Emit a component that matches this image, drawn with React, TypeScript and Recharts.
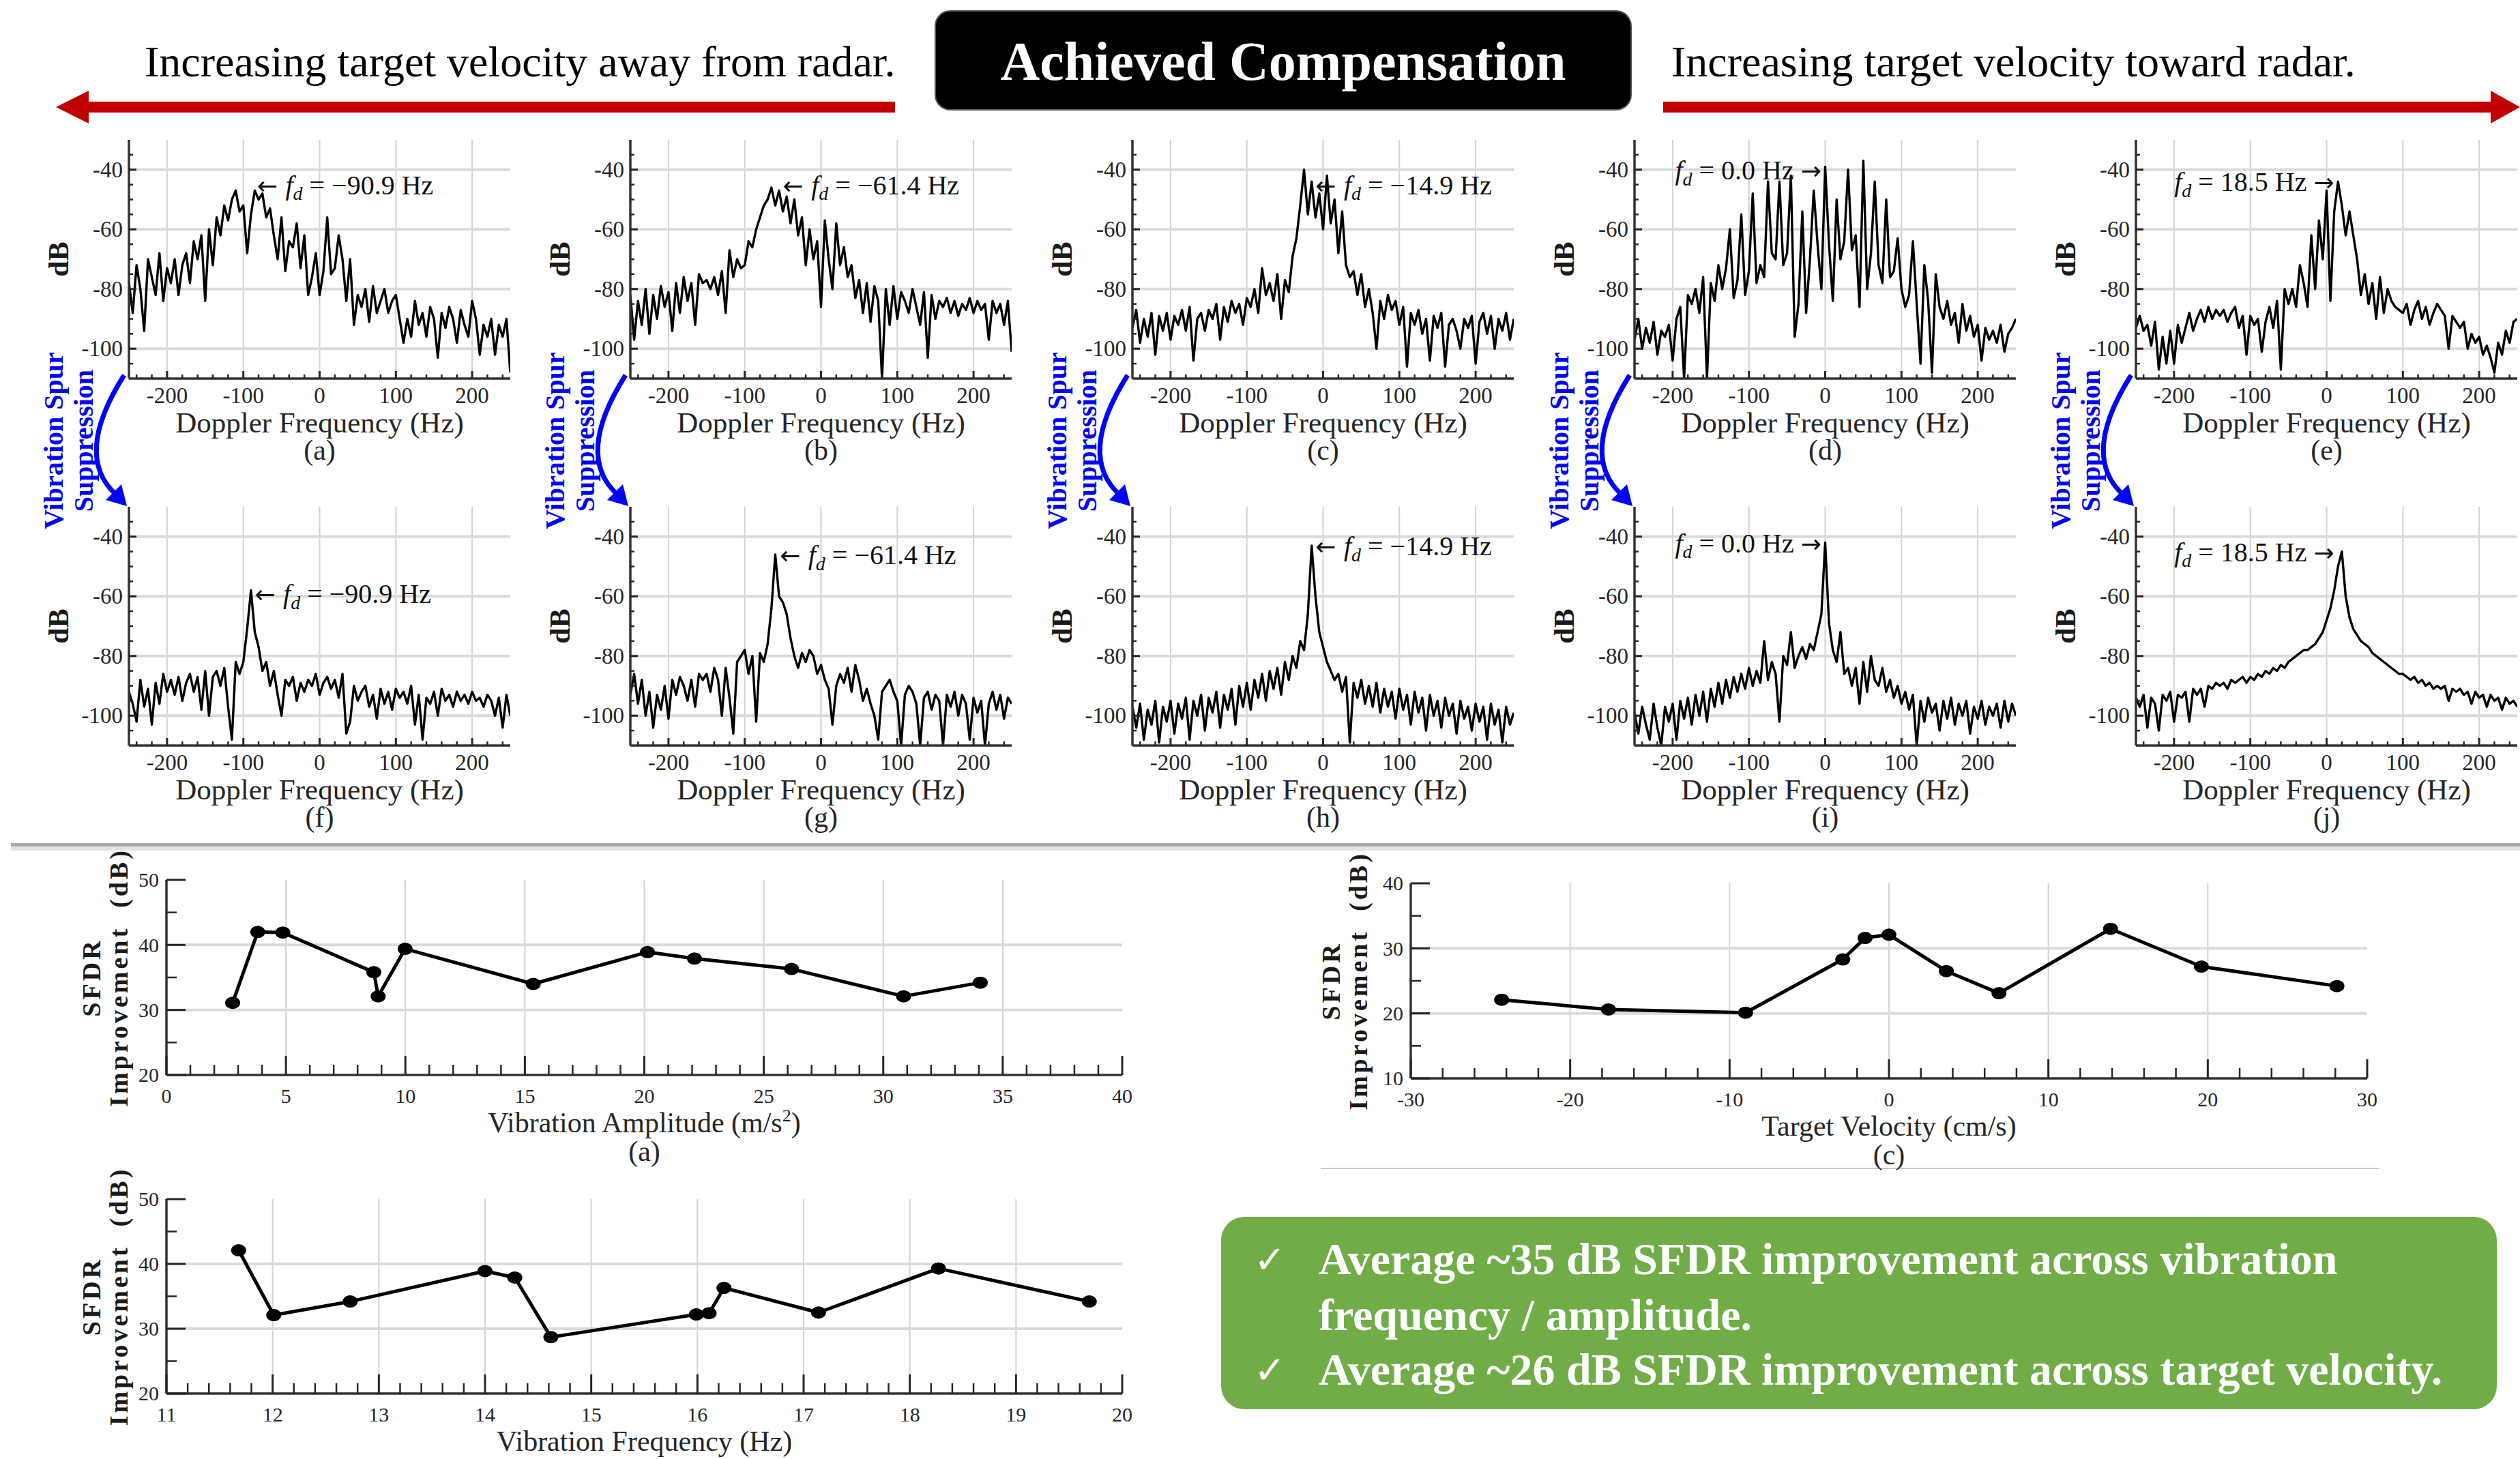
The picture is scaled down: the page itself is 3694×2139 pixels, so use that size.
import React from 'react';
import { LineChart, Line, XAxis, YAxis, ReferenceLine, ReferenceDot } from 'recharts';

const SERIF = "'Liberation Serif', 'Times New Roman', serif";
const INK = '#262626';
const PAGE_W = 3694;
const PAGE_H = 2139;

// Doppler spectra: bins every 5 Hz from -250 Hz to 250 Hz (101 bins), values in dB
const F_START = -250;
const F_STEP = 5;

// before compensation (top row)
const DB_A = [
  -78, -88, -72, -80, -94, -70, -76, -82, -68, -84,
  -73, -78, -70, -82, -72, -68, -78, -64, -70, -62,
  -84, -60, -72, -56, -62, -52, -57, -50, -47, -54,
  -52, -68, -55, -47, -50, -48, -56, -53, -62, -70,
  -56, -74, -64, -66, -58, -73, -62, -82, -76, -68,
  -82, -74, -56, -75, -73, -62, -70, -84, -70, -92,
  -82, -86, -80, -91, -79, -88, -84, -80, -88, -84,
  -82, -90, -98, -90, -96, -84, -92, -88, -96, -86,
  -90, -103, -88, -93, -86, -90, -98, -87, -92, -96,
  -84, -90, -102, -92, -96, -90, -102, -92, -96, -90,
  -108,
];
const DB_B = [
  -82, -97, -84, -92, -80, -95, -82, -90, -79, -86,
  -81, -94, -78, -88, -76, -84, -78, -92, -75, -78,
  -77, -80, -76, -82, -74, -88, -67, -76, -70, -73,
  -72, -64, -66, -60, -56, -52, -50, -46, -52, -47,
  -54, -49, -58, -50, -62, -56, -72, -60, -70, -64,
  -86, -57, -70, -80, -58, -72, -66, -76, -72, -83,
  -77, -88, -78, -91, -79, -84, -110, -80, -92, -79,
  -90, -81, -84, -88, -80, -86, -92, -81, -103, -82,
  -90, -84, -86, -83, -88, -84, -89, -85, -87, -83,
  -88, -84, -87, -85, -97, -84, -88, -85, -92, -84,
  -101,
];
const DB_C = [
  -93, -87, -98, -90, -96, -88, -102, -89, -94, -88,
  -97, -89, -92, -87, -94, -86, -104, -90, -88, -94,
  -87, -90, -85, -97, -86, -91, -84, -88, -85, -92,
  -83, -86, -80, -88, -73, -82, -78, -84, -75, -90,
  -77, -81, -69, -63, -52, -40, -55, -44, -56, -48,
  -60, -42, -58, -50, -68, -54, -72, -76, -74, -82,
  -75, -86, -80, -88, -100, -84, -90, -82, -87, -84,
  -92, -86, -106, -88, -92, -87, -95, -90, -104, -89,
  -93, -88, -106, -92, -90, -94, -100, -90, -93, -89,
  -105, -91, -88, -95, -89, -100, -90, -94, -88, -97,
  -90,
];
const DB_D = [
  -97, -90, -100, -93, -98, -91, -102, -94, -96, -92,
  -104, -90, -86, -110, -82, -85, -80, -88, -76, -110,
  -78, -84, -72, -80, -73, -60, -83, -77, -55, -82,
  -74, -48, -78, -72, -76, -44, -68, -70, -44, -72,
  -68, -42, -96, -85, -54, -88, -70, -47, -65, -80,
  -39, -65, -84, -50, -70, -64, -40, -67, -62, -86,
  -37, -80, -68, -44, -72, -78, -50, -76, -74, -63,
  -80, -86, -82, -64, -85, -105, -72, -84, -108, -75,
  -86, -90, -84, -92, -88, -98, -85, -94, -89, -96,
  -92, -104, -93, -97, -94, -98, -92, -101, -95, -93,
  -90,
];
const DB_E = [
  -93, -89, -94, -92, -99, -91, -107, -96, -105, -94,
  -105, -92, -98, -93, -88, -94, -90, -87, -91, -86,
  -90, -87, -89, -87, -91, -88, -86, -93, -89, -102,
  -89, -92, -90, -101, -91, -86, -93, -84, -107, -80,
  -85, -80, -86, -72, -78, -86, -62, -80, -57, -70,
  -47, -84, -54, -44, -52, -62, -54, -62, -70, -82,
  -75, -85, -78, -90, -76, -88, -80, -84, -86, -87,
  -88, -85, -92, -87, -84, -90, -86, -92, -88, -85,
  -87, -89, -100, -89, -91, -93, -91, -100, -95, -98,
  -96, -102, -99, -103, -108, -98, -102, -94, -98, -91,
  -90,
];

// after vibration spur suppression (bottom row)
const DB_F = [
  -92, -96, -102, -88, -97, -91, -103, -89, -96, -86,
  -92, -88, -93, -87, -95, -89, -86, -92, -87, -98,
  -85, -100, -87, -85, -90, -84, -97, -108, -82, -86,
  -82, -71, -58, -72, -77, -85, -82, -90, -85, -93,
  -100, -88, -90, -87, -95, -89, -92, -88, -90, -86,
  -93, -89, -87, -91, -88, -94, -86, -106, -102, -90,
  -95, -92, -90, -97, -93, -101, -91, -96, -92, -98,
  -91, -94, -92, -96, -90, -103, -93, -108, -94, -96,
  -92, -100, -91, -95, -93, -97, -92, -95, -93, -96,
  -92, -95, -94, -97, -93, -95, -100, -94, -104, -93,
  -100,
];
const DB_G = [
  -93, -86, -96, -88, -100, -92, -104, -93, -98, -90,
  -101, -88, -93, -87, -90, -95, -88, -97, -86, -88,
  -86, -92, -84, -88, -100, -84, -94, -106, -82, -80,
  -78, -86, -80, -102, -79, -82, -76, -64, -46, -60,
  -62, -66, -74, -80, -84, -79, -82, -78, -80, -86,
  -83, -88, -91, -103, -90, -86, -89, -84, -92, -83,
  -88, -95, -91, -96, -100, -108, -92, -90, -88, -92,
  -95, -110, -93, -90, -92, -96, -110, -94, -92, -98,
  -93, -95, -110, -93, -97, -92, -100, -93, -96, -108,
  -94, -99, -95, -110, -96, -92, -98, -93, -101, -94,
  -96,
];
const DB_H = [
  -97, -104, -96, -108, -98, -103, -95, -109, -97, -102,
  -95, -106, -96, -101, -94, -108, -95, -100, -93, -105,
  -94, -99, -92, -104, -93, -98, -91, -103, -90, -97,
  -89, -98, -88, -94, -86, -95, -85, -91, -84, -93,
  -82, -88, -80, -84, -75, -78, -66, -43, -60, -72,
  -77, -82, -85, -88, -86, -92, -87, -109, -89, -94,
  -88, -96, -90, -97, -89, -99, -91, -97, -92, -101,
  -91, -98, -93, -103, -92, -99, -94, -105, -93, -100,
  -95, -104, -94, -100, -96, -106, -95, -101, -97, -105,
  -96, -102, -97, -108, -96, -103, -98, -109, -97, -103,
  -99,
];
const DB_I = [
  -99, -106, -97, -103, -108, -96, -104, -110, -97, -102,
  -96, -108, -95, -101, -94, -103, -93, -100, -92, -102,
  -91, -97, -89, -96, -88, -94, -87, -92, -86, -91,
  -84, -90, -85, -89, -75, -88, -82, -86, -102, -80,
  -83, -72, -84, -80, -77, -81, -76, -78, -72, -66,
  -42, -69, -78, -82, -72, -86, -84, -90, -84, -96,
  -82, -92, -80, -88, -90, -84, -92, -88, -94, -90,
  -96, -92, -98, -93, -110, -95, -102, -94, -99, -96,
  -105, -95, -101, -94, -103, -96, -100, -95, -106, -97,
  -101, -95, -103, -97, -100, -96, -104, -95, -102, -96,
  -100,
];
const DB_J = [
  -94, -97, -93, -104, -94, -96, -105, -93, -95, -92,
  -102, -93, -94, -92, -102, -91, -93, -91, -97, -90,
  -91, -89, -90, -89, -91, -88, -89, -88, -87, -89,
  -87, -88, -86, -87, -85, -86, -84, -85, -83, -84,
  -82, -81, -80, -79, -78, -78, -77, -76, -74, -72,
  -68, -64, -58, -50, -45, -60, -67, -71, -73, -75,
  -76, -77, -79, -80, -81, -82, -83, -84, -85, -86,
  -86, -87, -88, -87, -89, -88, -90, -89, -91, -90,
  -91, -90, -95, -91, -92, -91, -93, -92, -96, -92,
  -94, -93, -97, -93, -95, -94, -98, -94, -96, -95,
  -97,
];

const SPEC_X_TICKS = [-200, -100, 0, 100, 200];
const SPEC_Y_TICKS = [-100, -80, -60, -40];

const TOP_SPECTRA = [DB_A, DB_B, DB_C, DB_D, DB_E];
const BOT_SPECTRA = [DB_F, DB_G, DB_H, DB_I, DB_J];
const TOP_LETTERS = ['(a)', '(b)', '(c)', '(d)', '(e)'];
const BOT_LETTERS = ['(f)', '(g)', '(h)', '(i)', '(j)'];
const FD_LABELS = ['−90.9', '−61.4', '−14.9', '0.0', '18.5'];

// SFDR improvement sweeps
const AMP = [2.77, 3.82, 4.87, 8.68, 8.86, 9.99, 15.35, 20.13, 22.1, 26.16, 30.85, 34.06];
const AMP_SFDR = [31.1, 42.0, 41.9, 35.8, 32.1, 39.4, 34.0, 38.9, 37.9, 36.3, 32.1, 34.2];
const VIB_F = [11.68, 12.01, 12.73, 14.0, 14.28, 14.62, 15.99, 16.11, 16.25, 17.14, 18.27, 19.69];
const VIB_F_SFDR = [42.1, 32.1, 34.2, 38.9, 37.9, 28.7, 32.2, 32.4, 36.3, 32.5, 39.3, 34.2];
const VEL = [-24.3, -17.6, -9.0, -2.9, -1.5, 0.0, 3.6, 6.9, 13.9, 19.6, 28.1];
const VEL_SFDR = [22.1, 20.6, 20.1, 28.3, 31.6, 32.1, 26.5, 23.1, 33.0, 27.2, 24.2];

const AMP_TICKS = [0, 5, 10, 15, 20, 25, 30, 35, 40];
const VIB_F_TICKS = [11, 12, 13, 14, 15, 16, 17, 18, 19, 20];
const VEL_TICKS = [-30, -20, -10, 0, 10, 20, 30];
const SFDR_TICKS_AB = [20, 30, 40, 50];
const SFDR_TICKS_C = [10, 20, 30, 40];

// layout
const COL_X = [189, 924, 1660, 2396, 3131];
const ROW_Y = [205, 743];
const SP_W = 559;
const SP_H = 350;

// where the fd notes sit (data coords) and which side the arrow is on
const NOTES_TOP = [
  { x: -82, y: -45, side: 'L' },
  { x: -50, y: -45, side: 'L' },
  { x: -10, y: -45, side: 'L' },
  { x: -5, y: -40, side: 'R' },
  { x: 10, y: -44, side: 'R' },
];
const NOTES_BOT = [
  { x: -85, y: -59, side: 'L' },
  { x: -54, y: -46, side: 'L' },
  { x: -10, y: -43, side: 'L' },
  { x: -5, y: -42, side: 'R' },
  { x: 10, y: -45, side: 'R' },
];

const steps = (a: number, b: number, s: number, skip: number[]) => {
  const out: number[] = [];
  for (let k = 0; a + k * s <= b + 1e-9; k++) {
    const v = +(a + k * s).toFixed(6);
    if (!skip.some((m) => Math.abs(m - v) < 1e-9)) out.push(v);
  }
  return out;
};

type Side = 'b' | 't' | 'l' | 'r';

function mkTick(side: Side, majors: number[], majorLen: number, minorLen: number, font: number, gap: number) {
  const isMajor = (v: number) => majors.some((m) => Math.abs(m - v) < 1e-9);
  return (props: any) => {
    const { x, y, payload, index } = props;
    const v = Number(payload.value);
    const major = isMajor(v);
    const len = major ? majorLen : minorLen;
    const d =
      side === 'b' ? `M${x},${y}V${y - len}` :
      side === 't' ? `M${x},${y}V${y + len}` :
      side === 'l' ? `M${x},${y}H${x + len}` : `M${x},${y}H${x - len}`;
    let label = null;
    if (major && side === 'b') {
      label = (
        <text x={x} y={y + gap} textAnchor="middle" fontFamily={SERIF} fontSize={font} fill={INK}>
          {String(v)}
        </text>
      );
    }
    if (major && side === 'l') {
      label = (
        <text x={x - gap} y={y} dy="0.34em" textAnchor="end" fontFamily={SERIF} fontSize={font} fill={INK}>
          {String(v)}
        </text>
      );
    }
    return (
      <g key={`${side}${index}`}>
        <path d={d} stroke={INK} strokeWidth={major ? 3 : 2.5} fill="none" />
        {label}
      </g>
    );
  };
}

const AXIS = { stroke: '#333', strokeWidth: 3.5 };
const ARROW_FONT = "'DejaVu Sans', sans-serif";

type Note = { x: number; y: number; side: string; text: string };

const noteShape = (note: Note) => (sp: any) => {
  const fs = 40;
  return (
    <text
      x={sp.cx}
      y={sp.cy + fs * 0.35}
      fontFamily={SERIF}
      fontSize={fs}
      fill="#111"
      textAnchor={note.side === 'L' ? 'start' : 'end'}
    >
      {note.side === 'L' && <tspan fontFamily={ARROW_FONT} fontSize={36}>{'← '}</tspan>}
      <tspan fontStyle="italic">f</tspan>
      <tspan fontStyle="italic" fontSize={fs * 0.7} dy={fs * 0.22}>d</tspan>
      <tspan dy={-fs * 0.22}>{` = ${note.text} Hz `}</tspan>
      {note.side === 'R' && <tspan fontFamily={ARROW_FONT} fontSize={36}>{'→'}</tspan>}
    </text>
  );
};

const ellipseDot = (p: any) => (
  <ellipse key={`m${p.index}`} cx={p.cx} cy={p.cy} rx={11} ry={9} fill="#000" />
);

type FrameProps = {
  left: number;
  top: number;
  w: number;
  h: number;
  data: Record<string, number>[];
  xKey: string;
  yKey: string;
  xDomain: [number, number];
  yDomain: [number, number];
  xMajor: number[];
  xMinor: number[];
  yMajor: number[];
  yMinor: number[];
  xGrid: number[];
  yGrid: number[];
  majorLen: number;
  minorLen: number;
  tickFont: number;
  xGap: number;
  yGap: number;
  lineWidth: number;
  dots?: boolean;
  note?: Note;
};

function Frame(p: FrameProps) {
  const YW = 140;
  const MT = 16;
  const MR = 16;
  const XH = 60;
  const xTicks = [...p.xMajor, ...p.xMinor].sort((a, b) => a - b);
  const yTicks = [...p.yMajor, ...p.yMinor].sort((a, b) => a - b);
  return (
    <div style={{ position: 'absolute', left: p.left - YW, top: p.top - MT }}>
      <LineChart
        width={YW + p.w + MR}
        height={MT + p.h + XH}
        data={p.data}
        margin={{ top: MT, right: MR, bottom: 0, left: 0 }}
      >
        <XAxis
          xAxisId="b"
          dataKey={p.xKey}
          type="number"
          domain={p.xDomain}
          allowDataOverflow
          ticks={xTicks}
          interval={0}
          height={XH}
          tickSize={0}
          tickMargin={0}
          tickLine={false}
          axisLine={AXIS}
          tick={mkTick('b', p.xMajor, p.majorLen, p.minorLen, p.tickFont, p.xGap)}
        />
        <XAxis
          xAxisId="t"
          orientation="top"
          dataKey={p.xKey}
          type="number"
          domain={p.xDomain}
          allowDataOverflow
          ticks={xTicks}
          interval={0}
          height={0}
          tickSize={0}
          tickMargin={0}
          tickLine={false}
          axisLine={AXIS}
          tick={mkTick('t', p.xMajor, p.majorLen, p.minorLen, p.tickFont, p.xGap)}
        />
        <YAxis
          yAxisId="l"
          type="number"
          domain={p.yDomain}
          allowDataOverflow
          ticks={yTicks}
          interval={0}
          width={YW}
          tickSize={0}
          tickMargin={0}
          tickLine={false}
          axisLine={AXIS}
          tick={mkTick('l', p.yMajor, p.majorLen, p.minorLen, p.tickFont, p.yGap)}
        />
        <YAxis
          yAxisId="r"
          orientation="right"
          type="number"
          domain={p.yDomain}
          allowDataOverflow
          ticks={yTicks}
          interval={0}
          width={0}
          tickSize={0}
          tickMargin={0}
          tickLine={false}
          axisLine={AXIS}
          tick={mkTick('r', p.yMajor, p.majorLen, p.minorLen, p.tickFont, p.yGap)}
        />
        {p.xGrid.map((v) => (
          <ReferenceLine key={`gx${v}`} xAxisId="b" yAxisId="l" x={v} stroke="#d2d2d2" strokeWidth={2} />
        ))}
        {p.yGrid.map((v) => (
          <ReferenceLine key={`gy${v}`} xAxisId="b" yAxisId="l" y={v} stroke="#dadada" strokeWidth={4} />
        ))}
        <Line
          xAxisId="b"
          yAxisId="l"
          dataKey={p.yKey}
          type="linear"
          stroke="#000"
          strokeWidth={p.lineWidth}
          strokeLinejoin="round"
          dot={p.dots ? ellipseDot : false}
          activeDot={false}
          isAnimationActive={false}
        />
        {p.note && (
          <ReferenceDot
            xAxisId="b"
            yAxisId="l"
            x={p.note.x}
            y={p.note.y}
            r={1}
            ifOverflow="visible"
            shape={noteShape(p.note)}
          />
        )}
      </LineChart>
    </div>
  );
}

const specRows = (db: number[]) => db.map((v, i) => ({ f: F_START + i * F_STEP, v }));
const SPEC_X_MINOR = steps(-240, 240, 20, SPEC_X_TICKS);
const SPEC_Y_MINOR = steps(-105, -35, 5, SPEC_Y_TICKS);

function Spectrum({ left, top, db, note }: { left: number; top: number; db: number[]; note: Note }) {
  return (
    <Frame
      left={left}
      top={top}
      w={SP_W}
      h={SP_H}
      data={specRows(db)}
      xKey="f"
      yKey="v"
      xDomain={[-250, 250]}
      yDomain={[-110, -30]}
      xMajor={SPEC_X_TICKS}
      xMinor={SPEC_X_MINOR}
      yMajor={SPEC_Y_TICKS}
      yMinor={SPEC_Y_MINOR}
      xGrid={SPEC_X_TICKS}
      yGrid={SPEC_Y_TICKS}
      majorLen={11}
      minorLen={6}
      tickFont={33}
      xGap={36}
      yGap={9}
      lineWidth={3.4}
      note={note}
    />
  );
}

const SFDR_PANELS = [
  {
    left: 244, top: 1290, w: 1401, h: 286,
    xs: AMP, ys: AMP_SFDR, xDomain: [0, 40] as [number, number], yDomain: [20, 50] as [number, number],
    xMajor: AMP_TICKS, xMinor: steps(0, 40, 1, AMP_TICKS), yMajor: SFDR_TICKS_AB, yMinor: [25, 35, 45],
    xGrid: [5, 10, 15, 20, 25, 30, 35], yGrid: [30, 40],
    xLabel: 'Vibration Amplitude (m/s', sup: '2', letter: '(a)', yl1: -110, yl2: -70,
  },
  {
    left: 244, top: 1758, w: 1401, h: 285,
    xs: VIB_F, ys: VIB_F_SFDR, xDomain: [11, 20] as [number, number], yDomain: [20, 50] as [number, number],
    xMajor: VIB_F_TICKS, xMinor: steps(11, 20, 0.2, VIB_F_TICKS), yMajor: SFDR_TICKS_AB, yMinor: [25, 35, 45],
    xGrid: [12, 13, 14, 15, 16, 17, 18, 19], yGrid: [30, 40],
    xLabel: 'Vibration Frequency (Hz)', sup: '', letter: '(b)', yl1: -110, yl2: -70,
  },
  {
    left: 2068, top: 1295, w: 1402, h: 286,
    xs: VEL, ys: VEL_SFDR, xDomain: [-30, 30] as [number, number], yDomain: [10, 40] as [number, number],
    xMajor: VEL_TICKS, xMinor: steps(-30, 30, 2, VEL_TICKS), yMajor: SFDR_TICKS_C, yMinor: [15, 25, 35],
    xGrid: [-20, -10, 0, 10, 20], yGrid: [20, 30],
    xLabel: 'Target Velocity (cm/s)', sup: '', letter: '(c)', yl1: -117, yl2: -77,
  },
];

function Overlay() {
  const labelCol = (i: number) => COL_X[i] - COL_X[0];
  return (
    <svg width={PAGE_W} height={PAGE_H} style={{ position: 'absolute', left: 0, top: 0 }}>
      {/* header */}
      <polygon points="82,157 130,133 130,149 1312,149 1312,165 130,165 130,181" fill="#C00000" />
      <polygon points="3694,157 3651,133 3651,149 2438,149 2438,165 3651,165 3651,181" fill="#C00000" />
      <text x={212} y={112} fontFamily={SERIF} fontSize={64} fill="#000">
        Increasing target velocity away from radar.
      </text>
      <text x={2450} y={112} fontFamily={SERIF} fontSize={64} fill="#000">
        Increasing target velocity toward radar.
      </text>
      <rect x={1371} y={16} width={1020} height={145} rx={22} fill="#000" stroke="#555" strokeWidth={2} />
      <text x={1881} y={117} textAnchor="middle" fontFamily={SERIF} fontWeight="bold" fontSize={80} fill="#fff">
        Achieved Compensation
      </text>

      {/* blue suppression arrows */}
      {COL_X.map((_, i) => {
        const dx = labelCol(i);
        return (
          <g key={`blue${i}`} transform={`translate(${dx},0)`}>
            <path d="M182,550 Q107,668 170,725" stroke="#0000FF" strokeWidth={7} fill="none" />
            <polygon points="186,742 178,710 155,733" fill="#0000FF" />
            <text
              transform="rotate(-90 78 646)"
              x={78}
              y={646}
              textAnchor="middle"
              dominantBaseline="central"
              fontFamily={SERIF}
              fontWeight="bold"
              fontSize={40}
              fill="#0000FF"
            >
              Vibration Spur
            </text>
            <text
              transform="rotate(-90 122 646)"
              x={122}
              y={646}
              textAnchor="middle"
              dominantBaseline="central"
              fontFamily={SERIF}
              fontWeight="bold"
              fontSize={40}
              fill="#0000FF"
            >
              Suppression
            </text>
          </g>
        );
      })}

      {/* spectrum axis labels */}
      {ROW_Y.map((py, r) =>
        COL_X.map((px, i) => {
          const pb = py + SP_H;
          const cx = px + SP_W / 2;
          return (
            <g key={`lab${r}${i}`}>
              <text
                transform={`rotate(-90 ${px - 103} ${py + SP_H / 2})`}
                x={px - 103}
                y={py + SP_H / 2}
                textAnchor="middle"
                dominantBaseline="central"
                fontFamily={SERIF}
                fontWeight="bold"
                fontSize={42}
                fill="#1a1a1a"
              >
                dB
              </text>
              <text x={cx} y={pb + 79} textAnchor="middle" fontFamily={SERIF} fontSize={43} fill={INK}>
                Doppler Frequency (Hz)
              </text>
              <text x={cx} y={pb + 119} textAnchor="middle" fontFamily={SERIF} fontSize={42} fill={INK}>
                {r === 0 ? TOP_LETTERS[i] : BOT_LETTERS[i]}
              </text>
            </g>
          );
        })
      )}

      {/* separator */}
      <rect x={16} y={1236} width={PAGE_W - 16} height={5} fill="#a8a8a8" />
      <rect x={16} y={1241} width={PAGE_W - 16} height={6} fill="#e2e2e2" />
      <rect x={1936} y={1712} width={1552} height={2} fill="#c8c8c8" />

      {/* SFDR labels */}
      {SFDR_PANELS.map((s, k) => {
        const cy = s.top + s.h / 2;
        const cx = s.left + s.w / 2;
        const b = s.top + s.h;
        return (
          <g key={`sl${k}`}>
            <text
              transform={`rotate(-90 ${s.left + s.yl1} ${cy})`}
              x={s.left + s.yl1}
              y={cy}
              textAnchor="middle"
              dominantBaseline="central"
              fontFamily={SERIF}
              fontWeight="bold"
              fontSize={38}
              letterSpacing={4}
              fill="#1a1a1a"
            >
              SFDR
            </text>
            <text
              transform={`rotate(-90 ${s.left + s.yl2} ${cy})`}
              x={s.left + s.yl2}
              y={cy}
              textAnchor="middle"
              dominantBaseline="central"
              fontFamily={SERIF}
              fontWeight="bold"
              fontSize={38}
              letterSpacing={4}
              fill="#1a1a1a"
            >
              {'Improvement\u00A0\u00A0(dB)'}
            </text>
            <text x={cx} y={b + 84} textAnchor="middle" fontFamily={SERIF} fontSize={42} fill={INK}>
              {s.xLabel}
              {s.sup && (
                <>
                  <tspan fontSize={26} dy={-16}>{s.sup}</tspan>
                  <tspan dy={16}>)</tspan>
                </>
              )}
            </text>
            <text x={cx} y={b + 126} textAnchor="middle" fontFamily={SERIF} fontSize={42} fill={INK}>
              {s.letter}
            </text>
          </g>
        );
      })}

      {/* summary box */}
      <rect x={1790} y={1784} width={1870} height={282} rx={34} fill="#70AD47" />
      <text x={1838} y={1866} fontFamily="'DejaVu Sans', sans-serif" fontSize={56} fill="#fff">✓</text>
      <text x={1838} y={2028} fontFamily="'DejaVu Sans', sans-serif" fontSize={56} fill="#fff">✓</text>
      <text x={1933} y={1868} fontFamily={SERIF} fontWeight="bold" fontSize={66} fill="#fff">
        Average ~35 dB SFDR improvement across vibration
      </text>
      <text x={1933} y={1950} fontFamily={SERIF} fontWeight="bold" fontSize={66} fill="#fff">
        frequency / amplitude.
      </text>
      <text x={1933} y={2030} fontFamily={SERIF} fontWeight="bold" fontSize={66} fill="#fff">
        Average ~26 dB SFDR improvement across target velocity.
      </text>
    </svg>
  );
}

export default function App() {
  return (
    <div
      style={{
        position: 'absolute',
        left: 0,
        top: 0,
        width: PAGE_W,
        height: PAGE_H,
        overflow: 'hidden',
        background: '#fff',
        fontFamily: SERIF,
      }}
    >
      <Overlay />
      {TOP_SPECTRA.map((db, i) => (
        <Spectrum
          key={`top${i}`}
          left={COL_X[i]}
          top={ROW_Y[0]}
          db={db}
          note={{ ...NOTES_TOP[i], text: FD_LABELS[i] }}
        />
      ))}
      {BOT_SPECTRA.map((db, i) => (
        <Spectrum
          key={`bot${i}`}
          left={COL_X[i]}
          top={ROW_Y[1]}
          db={db}
          note={{ ...NOTES_BOT[i], text: FD_LABELS[i] }}
        />
      ))}
      {SFDR_PANELS.map((s, k) => (
        <Frame
          key={`sfdr${k}`}
          left={s.left}
          top={s.top}
          w={s.w}
          h={s.h}
          data={s.xs.map((x, i) => ({ x, s: s.ys[i] }))}
          xKey="x"
          yKey="s"
          xDomain={s.xDomain}
          yDomain={s.yDomain}
          xMajor={s.xMajor}
          xMinor={s.xMinor}
          yMajor={s.yMajor}
          yMinor={s.yMinor}
          xGrid={s.xGrid}
          yGrid={s.yGrid}
          majorLen={28}
          minorLen={15}
          tickFont={30}
          xGap={41}
          yGap={11}
          lineWidth={5}
          dots
        />
      ))}
    </div>
  );
}
